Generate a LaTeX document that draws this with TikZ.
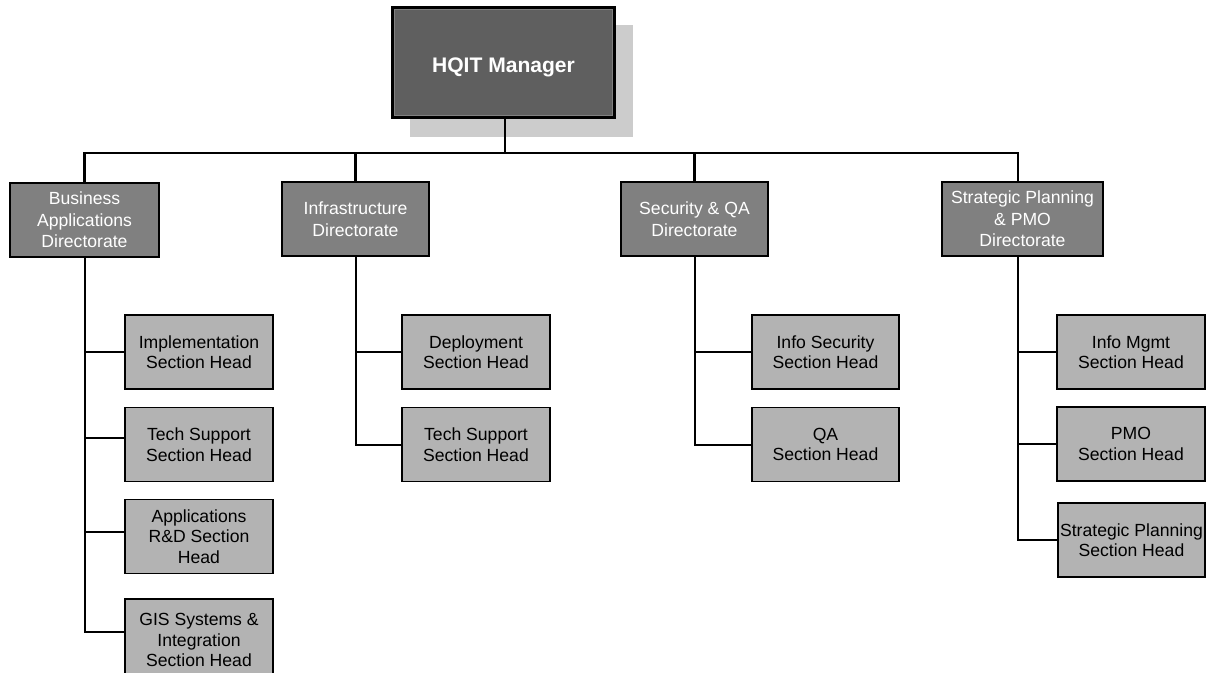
\documentclass[tikz,border=0pt]{standalone}
\usepackage{fontspec}
\setmainfont{Liberation Sans}
\usetikzlibrary{calc}
\definecolor{mgrfill}{HTML}{5F5F5F}
\definecolor{dirfill}{HTML}{808080}
\definecolor{secfill}{HTML}{B3B3B3}
\definecolor{shadowc}{HTML}{CCCCCC}
\tikzset{
  mgrbox/.style={draw=black, line width=2.6pt, fill=mgrfill, text=white,
    minimum width=221*0.75pt, minimum height=109*0.75pt, inner sep=0pt,
    font=\fontsize{15.8}{18}\selectfont\bfseries},
  dirbox/.style={draw=black, line width=1.3pt, fill=dirfill, text=white,
    minimum height=74*0.75pt, inner sep=0pt, align=center,
    font=\fontsize{13.2}{16.2}\selectfont},
  secbox/.style={draw=black, line width=1.3pt, fill=secfill, text=black,
    minimum width=148*0.75pt, minimum height=74*0.75pt, inner sep=0pt, align=center,
    font=\fontsize{13.2}{15.4}\selectfont},
  topconn/.style={draw=black, line width=2.1pt},
  brconn/.style={draw=black, line width=1.5pt},
}
\begin{document}
\begin{tikzpicture}[x=0.75pt, y=-0.75pt]
\useasboundingbox (0,0) rectangle (1208,672);
\clip (0,0) rectangle (1208,672);
\fill[white] (0,0) rectangle (1208,672);

% shadow of the manager box
\fill[shadowc] (410,25) rectangle (633,137);

% manager
\node[mgrbox] (mgr) at (503.5,62.5) {\raisebox{-4pt}[\height][\depth]{HQIT Manager}};
\draw[gray, line width=0.7pt] ([shift={(3,3)}]mgr.north west) rectangle ([shift={(-3,-3)}]mgr.south east);

% directorates
\node[dirbox, minimum width=149*0.75pt] (d1) at (84.5,220) {Business\\Applications\\Directorate};
\node[dirbox, minimum width=147*0.75pt] (d2) at (355.5,219) {Infrastructure\\Directorate};
\node[dirbox, minimum width=147*0.75pt] (d3) at (694.5,219) {Security \& QA\\Directorate};
\node[dirbox, minimum width=161*0.75pt] (d4) at (1022.5,219) {Strategic Planning\\\& PMO\\Directorate};

% sections
\node[secbox] (b1) at (199,352) {Implementation\\Section Head};
\node[secbox] (b2) at (199,444.5) {Tech Support\\Section Head};
\node[secbox] (b3) at (199,536.5) {Applications\\R\&D Section\\Head};
\node[secbox, minimum height=82*0.75pt] (b4) at (199,640) {GIS Systems \&\\Integration\\Section Head};

\node[secbox] (i1) at (476,352) {Deployment\\Section Head};
\node[secbox] (i2) at (476,444.5) {Tech Support\\Section Head};

\node[secbox, minimum width=147*0.75pt] (s1) at (825.5,352) {Info Security\\Section Head};
\node[secbox, minimum width=147*0.75pt] (s2) at (825.5,444.5) {QA\\Section Head};

\node[secbox] (p1) at (1131,352) {Info Mgmt\\Section Head};
\node[secbox] (p2) at (1131,444) {PMO\\Section Head};
\node[secbox, minimum width=147*0.75pt] (p3) at (1131.5,540) {Strategic Planning\\Section Head};

% top connectors
\coordinate (bar) at (0,153);
\coordinate (d4top) at ([xshift=-3.4pt]d4.north);
\coordinate (d4bot) at ([xshift=-3.4pt]d4.south);
\draw[topconn] ([xshift=1.1pt]mgr.south) -- ([xshift=1.1pt]mgr.south |- bar);
\draw[topconn] (d1.north) |- (d4top |- bar) -- (d4top);
\draw[topconn] (d2.north) -- (d2.north |- bar);
\draw[topconn] (d3.north) -- (d3.north |- bar);

% branch connectors
\draw[brconn] (d1.south) |- (b1.west);
\draw[brconn] (d1.south) |- ([yshift=4.9pt]b2.west);
\draw[brconn] (d1.south) |- ([yshift=3.4pt]b3.west);
\draw[brconn] (d1.south) |- ([yshift=6pt]b4.west);

\draw[brconn] (d2.south) |- (i1.west);
\draw[brconn] (d2.south) |- (i2.west);

\draw[brconn] (d3.south) |- (s1.west);
\draw[brconn] (d3.south) |- (s2.west);

\draw[brconn] (d4bot) |- (p1.west);
\draw[brconn] (d4bot) |- (p2.west);
\draw[brconn] (d4bot) |- (p3.west);
\end{tikzpicture}
\end{document}
